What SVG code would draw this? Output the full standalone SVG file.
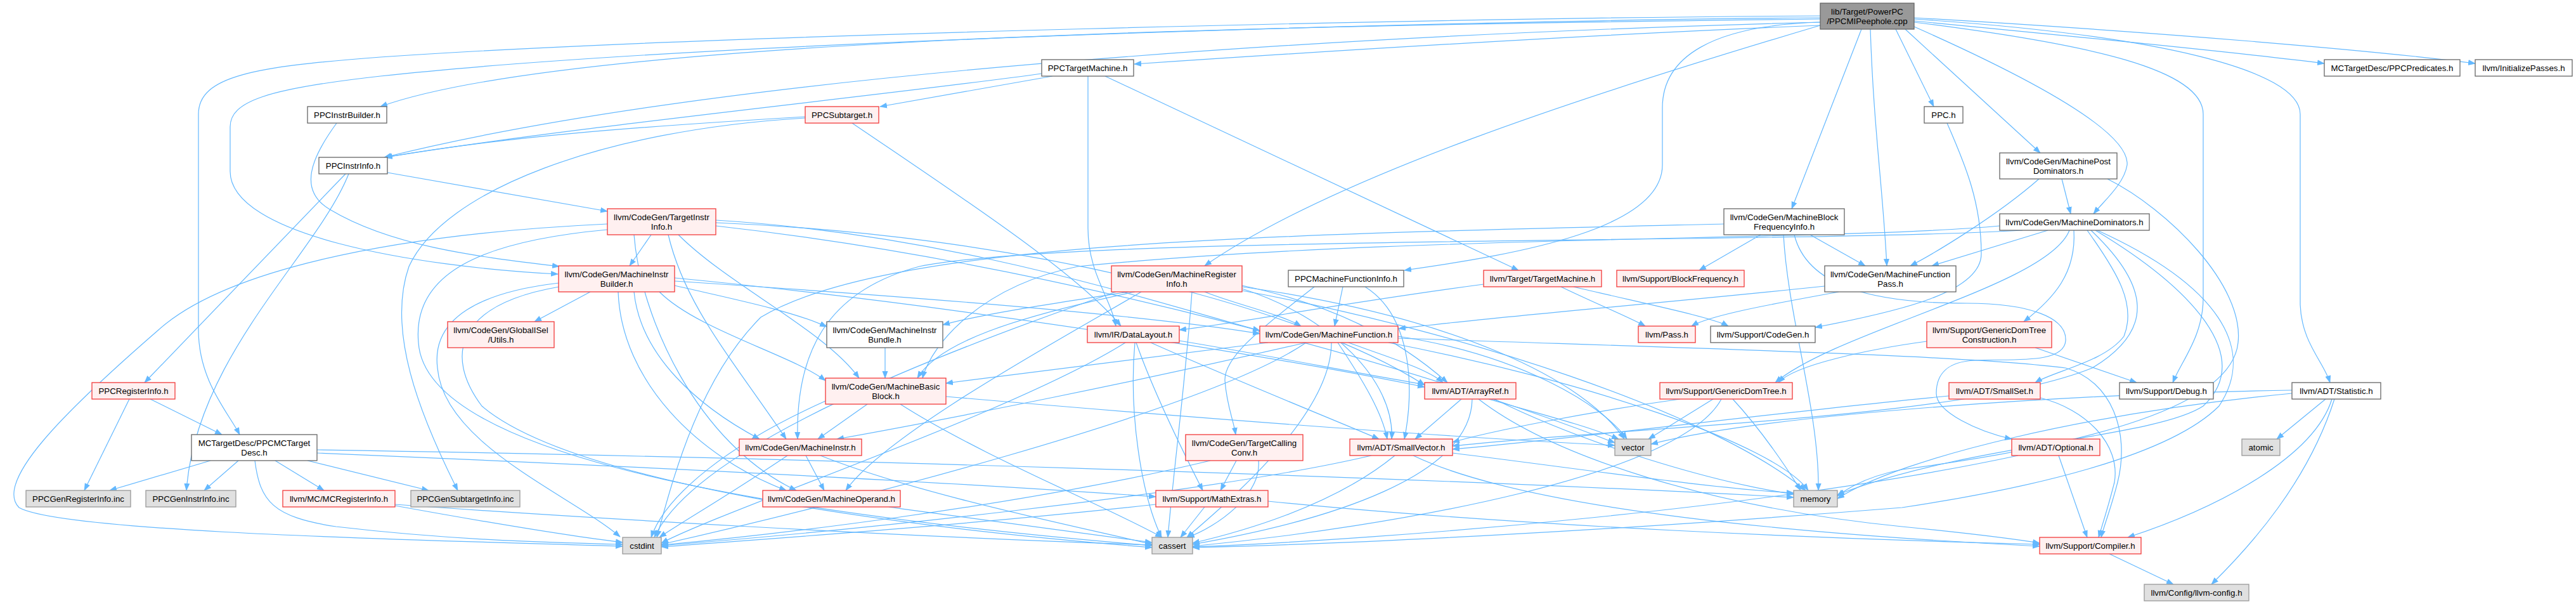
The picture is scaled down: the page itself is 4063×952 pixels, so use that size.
<svg xmlns="http://www.w3.org/2000/svg" width="4063" height="952" viewBox="0 0 4063 952">
<defs>
<marker id="arr" markerWidth="12" markerHeight="10" refX="11" refY="4.5" orient="auto" markerUnits="userSpaceOnUse"><path d="M0,0 L12,4.5 L0,9 z" fill="#63b8ff"/></marker>
<style>
.e path{fill:none;stroke:#63b8ff;stroke-width:1.2;marker-end:url(#arr)}
rect{stroke-width:1.3}
.w rect{fill:#ffffff;stroke:#666666}
.r rect{fill:#fff0f0;stroke:#f23a3a}
.g rect{fill:#e0e0e0;stroke:#999999}
.t rect{fill:#999999;stroke:#666666}
text{font-family:"Liberation Sans",Arial,Helvetica,sans-serif;font-size:13.3px;text-anchor:middle;fill:#000000}
</style>
</defs>
<rect x="0" y="0" width="4063" height="952" fill="#ffffff"/>
<g id="connectors" class="e">
<path d="M2871,30 C2000,40 900,60 600,168"/>
<path d="M2871,35 C2300,50 1200,100 606,248"/>
<path d="M2871,28 C2300,32 1100,65 600,120 C420,140 363,160 363,200 L363,270 C363,370 650,420 880,432"/>
<path d="M2871,25 C2300,28 1100,55 600,90 C400,105 313,120 313,180 L313,520 C313,600 360,650 378,685"/>
<path d="M2871,40 C2500,55 2100,80 1789,101"/>
<path d="M2871,40 C2500,150 2100,280 1900,419"/>
<path d="M2871,35 C2700,40 2622,90 2622,170 L2622,260 C2622,360 2400,400 2215,426"/>
<path d="M2936,46 L2826,329"/>
<path d="M2950,46 C2955,200 2970,300 2976,419"/>
<path d="M2990,46 L3050,168"/>
<path d="M3005,46 L3218,241"/>
<path d="M3019,42 C3150,100 3360,200 3355,260 C3350,290 3320,315 3302,337"/>
<path d="M3019,35 C3300,70 3475,110 3475,180 L3475,470 C3475,530 3440,570 3427,603"/>
<path d="M3019,30 C3400,55 3628,110 3628,180 L3628,480 C3630,540 3665,570 3675,603"/>
<path d="M3019,33 C3300,60 3550,85 3666,100"/>
<path d="M3019,28 C3400,50 3750,80 3904,100"/>
<path d="M1643,116 C1400,150 900,200 607,248"/>
<path d="M1660,120 L1388,168"/>
<path d="M1716,120 L1716,360 C1716,430 1752,470 1760,514"/>
<path d="M1743,120 L2395,426"/>
<path d="M1270,184 C1000,200 800,215 608,248"/>
<path d="M1270,186 C950,205 700,300 645,420 C610,520 660,650 722,773"/>
<path d="M1344,194 C1500,300 1700,430 1768,514"/>
<path d="M531,194 C490,250 470,300 520,330 C620,390 760,405 882,420"/>
<path d="M611,272 L958,333"/>
<path d="M545,274 L228,603"/>
<path d="M550,274 C500,400 310,560 294,773"/>
<path d="M204,629 L133,773"/>
<path d="M237,629 L350,685"/>
<path d="M332,726 L173,773"/>
<path d="M376,726 L322,773"/>
<path d="M434,726 L511,773"/>
<path d="M485,726 L676,773"/>
<path d="M402,726 C410,790 430,815 530,830 C700,850 850,855 982,858"/>
<path d="M500,709 C1200,720 2200,750 2829,784"/>
<path d="M500,714 C1000,735 1500,760 1823,783"/>
<path d="M623,797 C750,820 900,845 982,855"/>
<path d="M623,795 C900,815 1400,845 1817,859"/>
<path d="M1027,370 L993,419"/>
<path d="M958,353 C600,370 350,430 250,520 C100,650 -10,760 30,800 C100,840 700,852 982,861"/>
<path d="M1054,370 C1080,480 1150,560 1240,692"/>
<path d="M1070,370 C1150,450 1300,520 1355,596"/>
<path d="M1000,370 C1010,500 1100,700 1256,773"/>
<path d="M958,362 C760,380 650,430 660,540 C670,700 1100,800 1817,860"/>
<path d="M1129,351 C1600,370 2050,480 2247,607"/>
<path d="M1129,347 C1500,370 1800,470 1987,521"/>
<path d="M1129,356 C1700,420 2300,600 2547,698"/>
<path d="M931,460 L843,507"/>
<path d="M1064,450 C1150,470 1250,490 1304,515"/>
<path d="M1040,460 C1100,520 1250,560 1302,600"/>
<path d="M1000,460 C1010,560 1100,640 1198,692"/>
<path d="M975,460 C980,600 1100,720 1240,773"/>
<path d="M882,452 C720,480 700,560 760,640 C900,760 1400,830 1817,863"/>
<path d="M882,446 C760,460 680,500 690,580 C700,700 900,780 978,846"/>
<path d="M1064,438 C1500,480 2000,560 2247,610"/>
<path d="M1064,443 C1400,465 1800,495 1987,526"/>
<path d="M1780,460 C1650,480 1550,495 1487,512"/>
<path d="M1790,460 C1600,500 1480,540 1447,596"/>
<path d="M1800,460 C1700,520 1400,680 1334,773"/>
<path d="M1880,460 C1870,600 1850,750 1842,847"/>
<path d="M1760,460 C1500,550 1100,700 1032,847"/>
<path d="M1959,450 C2100,480 2200,530 2283,603"/>
<path d="M1900,460 C1950,480 2020,495 2052,514"/>
<path d="M1959,455 C2100,500 2200,600 2195,692"/>
<path d="M1959,458 C2300,520 2700,650 2848,773"/>
<path d="M1959,452 C2300,500 2500,600 2562,692"/>
<path d="M1368,637 L1290,692"/>
<path d="M1302,632 C1150,700 1050,780 1027,847"/>
<path d="M1420,637 C1550,720 1750,800 1833,847"/>
<path d="M1492,625 C1900,660 2300,690 2547,702"/>
<path d="M1396,548 L1396,596"/>
<path d="M1271,718 L1300,773"/>
<path d="M1242,718 C1150,780 1080,820 1040,847"/>
<path d="M1294,718 C1450,780 1700,830 1817,858"/>
<path d="M1402,799 C1550,820 1700,840 1817,855"/>
<path d="M1860,537 C2000,560 2150,590 2247,606"/>
<path d="M1815,540 C1950,600 2100,660 2175,692"/>
<path d="M1792,540 C1820,620 1870,720 1897,773"/>
<path d="M1790,540 C1780,650 1800,780 1832,847"/>
<path d="M1775,540 C1600,650 1150,800 1043,856"/>
<path d="M2000,540 C1800,565 1600,590 1492,604"/>
<path d="M2060,540 C1800,600 1500,660 1320,692"/>
<path d="M2127,540 C2180,560 2250,580 2276,603"/>
<path d="M2110,540 C2150,600 2180,650 2188,692"/>
<path d="M2100,540 C2100,650 1950,780 1872,847"/>
<path d="M2060,540 C1900,650 1300,800 1043,858"/>
<path d="M2190,540 C2500,600 2800,700 2852,773"/>
<path d="M2205,530 C2400,560 2530,640 2566,692"/>
<path d="M2205,533 C2700,550 3100,560 3258,580 C3330,600 3360,680 3340,760 C3330,800 3318,830 3314,847"/>
<path d="M2073,452 C2000,510 1930,560 1932,600 C1935,640 1945,660 1949,685"/>
<path d="M2118,452 L2105,514"/>
<path d="M2153,452 C2230,500 2230,620 2215,692"/>
<path d="M2340,448 C2100,480 1950,510 1860,520"/>
<path d="M2462,452 C2520,480 2570,500 2595,514"/>
<path d="M2482,452 C2600,480 2700,500 2726,514"/>
<path d="M2777,370 L2680,426"/>
<path d="M2855,370 L2942,419"/>
<path d="M2719,353 C2000,370 1400,380 1200,500 C1100,600 1060,760 1036,847"/>
<path d="M2813,370 C2820,500 2870,650 2868,773"/>
<path d="M2830,370 C2850,450 2950,478 3102,478 C3200,478 3260,500 3258,537 C3255,575 3170,565 3115,568 C3070,570 3054,590 3054,620 C3054,650 3120,680 3173,692"/>
<path d="M2878,451 C2600,480 2350,500 2206,518"/>
<path d="M2900,460 C2820,475 2700,495 2668,514"/>
<path d="M2305,629 L2232,692"/>
<path d="M2322,629 C2320,750 2100,820 1881,858"/>
<path d="M2332,629 C2450,720 2700,800 3000,830 C3100,840 3180,850 3217,856"/>
<path d="M2348,629 C2420,650 2500,670 2553,692"/>
<path d="M2357,629 C2500,700 2700,760 2829,779"/>
<path d="M2650,629 C2500,650 2350,680 2291,697"/>
<path d="M2702,629 L2600,692"/>
<path d="M2715,629 C2650,750 2200,830 1881,861"/>
<path d="M2733,629 C2780,680 2820,740 2840,773"/>
<path d="M2163,718 C1900,780 1300,840 1043,860"/>
<path d="M2200,718 C2100,800 1950,840 1881,856"/>
<path d="M2229,718 C2400,800 2800,840 3217,861"/>
<path d="M2291,714 C2500,740 2700,770 2829,777"/>
<path d="M1823,795 C1500,830 1200,850 1043,862"/>
<path d="M1900,799 L1862,847"/>
<path d="M2000,790 C2400,830 2900,850 3217,858"/>
<path d="M1909,726 C1600,800 1200,845 1043,859"/>
<path d="M1950,726 L1925,773"/>
<path d="M1985,726 C1990,780 1920,830 1873,847"/>
<path d="M3230,363 L3047,419"/>
<path d="M3154,356 C2900,380 2200,370 1700,420 C1550,450 1470,540 1455,596"/>
<path d="M3190,363 C2800,385 1700,370 1450,420 C1300,460 1255,560 1258,692"/>
<path d="M3264,363 C3230,450 2900,520 2800,603"/>
<path d="M3271,363 C3275,430 3240,470 3192,507"/>
<path d="M3292,363 C3340,430 3370,480 3350,530 C3320,570 3240,585 3210,603"/>
<path d="M3298,363 C3390,450 3400,520 3300,580 C3100,660 2600,670 2291,703"/>
<path d="M3305,363 C3450,450 3560,560 3475,640 C3400,690 3100,700 2898,780"/>
<path d="M3308,363 C3500,450 3560,550 3500,640 C3420,720 3200,770 3000,800 C2500,840 2100,858 1881,863"/>
<path d="M3216,282 C3150,340 3050,400 3013,419"/>
<path d="M3252,282 L3266,337"/>
<path d="M3324,282 C3420,330 3540,450 3530,540 C3520,640 3300,700 3000,740 C2950,750 2920,765 2898,782"/>
<path d="M3210,548 L3370,603"/>
<path d="M3039,538 C2950,550 2830,575 2805,603"/>
<path d="M3074,624 C2800,650 2500,690 2291,708"/>
<path d="M3218,627 C3290,645 3345,700 3335,760 C3325,800 3315,830 3310,847"/>
<path d="M3247,718 L3292,847"/>
<path d="M3183,718 C2800,800 2200,850 1881,862"/>
<path d="M3668,629 L3591,692"/>
<path d="M3678,629 C3650,720 3500,800 3356,847"/>
<path d="M3682,629 C3640,760 3550,860 3488,921"/>
<path d="M3615,620 C3300,650 3000,720 2898,786"/>
<path d="M3615,615 C3300,620 2800,650 2604,700"/>
<path d="M3327,873 L3428,921"/>
<path d="M3071,194 C3100,260 3125,320 3125,400 C3125,460 3000,490 2863,516"/>
</g>
<g id="n_top" class="t"><rect x="2871" y="5" width="148" height="41"/><text x="2945" y="22.5">lib/Target/PowerPC</text><text x="2945" y="37.5">/PPCMIPeephole.cpp</text></g>
<g id="n_PPCInstrBuilder" class="w"><rect x="485" y="168" width="125" height="26"/><text x="547.5" y="186">PPCInstrBuilder.h</text></g>
<g id="n_PPCInstrInfo" class="w"><rect x="503" y="248" width="108" height="26"/><text x="557" y="266">PPCInstrInfo.h</text></g>
<g id="n_TargetInstrInfo" class="r"><rect x="958" y="329" width="171" height="41"/><text x="1043.5" y="346.5">llvm/CodeGen/TargetInstr</text><text x="1043.5" y="361.5">Info.h</text></g>
<g id="n_MachineInstrBuilder" class="r"><rect x="881" y="419" width="183" height="41"/><text x="972.5" y="436.5">llvm/CodeGen/MachineInstr</text><text x="972.5" y="451.5">Builder.h</text></g>
<g id="n_Utils" class="r"><rect x="706" y="507" width="168" height="41"/><text x="790" y="524.5">llvm/CodeGen/GlobalISel</text><text x="790" y="539.5">/Utils.h</text></g>
<g id="n_PPCRegisterInfo" class="r"><rect x="145" y="603" width="131" height="26"/><text x="210.5" y="621">PPCRegisterInfo.h</text></g>
<g id="n_PPCMCTargetDesc" class="w"><rect x="302" y="685" width="198" height="41"/><text x="401" y="702.5">MCTargetDesc/PPCMCTarget</text><text x="401" y="717.5">Desc.h</text></g>
<g id="n_PPCGenRegisterInfo" class="g"><rect x="41" y="773" width="165" height="26"/><text x="123.5" y="791">PPCGenRegisterInfo.inc</text></g>
<g id="n_PPCGenInstrInfo" class="g"><rect x="230" y="773" width="142" height="26"/><text x="301" y="791">PPCGenInstrInfo.inc</text></g>
<g id="n_MCRegisterInfo" class="r"><rect x="446" y="773" width="177" height="26"/><text x="534.5" y="791">llvm/MC/MCRegisterInfo.h</text></g>
<g id="n_PPCGenSubtargetInfo" class="g"><rect x="648" y="773" width="172" height="26"/><text x="734" y="791">PPCGenSubtargetInfo.inc</text></g>
<g id="n_cstdint" class="g"><rect x="982" y="847" width="61" height="26"/><text x="1012.5" y="865">cstdint</text></g>
<g id="n_PPCTargetMachine" class="w"><rect x="1643" y="94" width="145" height="26"/><text x="1715.5" y="112">PPCTargetMachine.h</text></g>
<g id="n_PPCSubtarget" class="r"><rect x="1270" y="168" width="116" height="26"/><text x="1328" y="186">PPCSubtarget.h</text></g>
<g id="n_MachineRegisterInfo" class="r"><rect x="1753" y="419" width="206" height="41"/><text x="1856" y="436.5">llvm/CodeGen/MachineRegister</text><text x="1856" y="451.5">Info.h</text></g>
<g id="n_MachineInstrBundle" class="w"><rect x="1304" y="507" width="183" height="41"/><text x="1395.5" y="524.5">llvm/CodeGen/MachineInstr</text><text x="1395.5" y="539.5">Bundle.h</text></g>
<g id="n_DataLayout" class="r"><rect x="1715" y="514" width="145" height="26"/><text x="1787.5" y="532">llvm/IR/DataLayout.h</text></g>
<g id="n_MachineFunction" class="r"><rect x="1987" y="514" width="218" height="26"/><text x="2096" y="532">llvm/CodeGen/MachineFunction.h</text></g>
<g id="n_MachineBasicBlock" class="r"><rect x="1302" y="596" width="190" height="41"/><text x="1397" y="613.5">llvm/CodeGen/MachineBasic</text><text x="1397" y="628.5">Block.h</text></g>
<g id="n_MachineInstr" class="r"><rect x="1166" y="692" width="193" height="26"/><text x="1262.5" y="710">llvm/CodeGen/MachineInstr.h</text></g>
<g id="n_MachineOperand" class="r"><rect x="1203" y="773" width="217" height="26"/><text x="1311.5" y="791">llvm/CodeGen/MachineOperand.h</text></g>
<g id="n_TargetCallingConv" class="r"><rect x="1870" y="685" width="185" height="41"/><text x="1962.5" y="702.5">llvm/CodeGen/TargetCalling</text><text x="1962.5" y="717.5">Conv.h</text></g>
<g id="n_MathExtras" class="r"><rect x="1823" y="773" width="177" height="26"/><text x="1911.5" y="791">llvm/Support/MathExtras.h</text></g>
<g id="n_cassert" class="g"><rect x="1817" y="847" width="64" height="26"/><text x="1849" y="865">cassert</text></g>
<g id="n_MachineBlockFrequencyInfo" class="w"><rect x="2719" y="329" width="190" height="41"/><text x="2814" y="346.5">llvm/CodeGen/MachineBlock</text><text x="2814" y="361.5">FrequencyInfo.h</text></g>
<g id="n_PPCMachineFunctionInfo" class="w"><rect x="2032" y="426" width="182" height="26"/><text x="2123" y="444">PPCMachineFunctionInfo.h</text></g>
<g id="n_TargetMachine" class="r"><rect x="2340" y="426" width="186" height="26"/><text x="2433" y="444">llvm/Target/TargetMachine.h</text></g>
<g id="n_BlockFrequency" class="r"><rect x="2550" y="426" width="201" height="26"/><text x="2650.5" y="444">llvm/Support/BlockFrequency.h</text></g>
<g id="n_MachineFunctionPass" class="w"><rect x="2878" y="419" width="207" height="41"/><text x="2981.5" y="436.5">llvm/CodeGen/MachineFunction</text><text x="2981.5" y="451.5">Pass.h</text></g>
<g id="n_Pass" class="r"><rect x="2584" y="514" width="90" height="26"/><text x="2629" y="532">llvm/Pass.h</text></g>
<g id="n_CodeGen" class="w"><rect x="2698" y="514" width="165" height="26"/><text x="2780.5" y="532">llvm/Support/CodeGen.h</text></g>
<g id="n_ArrayRef" class="r"><rect x="2247" y="603" width="144" height="26"/><text x="2319" y="621">llvm/ADT/ArrayRef.h</text></g>
<g id="n_GenericDomTree" class="r"><rect x="2618" y="603" width="209" height="26"/><text x="2722.5" y="621">llvm/Support/GenericDomTree.h</text></g>
<g id="n_SmallVector" class="r"><rect x="2129" y="692" width="162" height="26"/><text x="2210" y="710">llvm/ADT/SmallVector.h</text></g>
<g id="n_vector" class="g"><rect x="2547" y="692" width="57" height="26"/><text x="2575.5" y="710">vector</text></g>
<g id="n_memory" class="g"><rect x="2829" y="773" width="69" height="26"/><text x="2863.5" y="791">memory</text></g>
<g id="n_PPC" class="w"><rect x="3035" y="168" width="61" height="26"/><text x="3065.5" y="186">PPC.h</text></g>
<g id="n_MachinePostDominators" class="w"><rect x="3154" y="241" width="185" height="41"/><text x="3246.5" y="258.5">llvm/CodeGen/MachinePost</text><text x="3246.5" y="273.5">Dominators.h</text></g>
<g id="n_MachineDominators" class="w"><rect x="3154" y="337" width="236" height="26"/><text x="3272" y="355">llvm/CodeGen/MachineDominators.h</text></g>
<g id="n_PPCPredicates" class="w"><rect x="3666" y="94" width="214" height="26"/><text x="3773" y="112">MCTargetDesc/PPCPredicates.h</text></g>
<g id="n_InitializePasses" class="w"><rect x="3904" y="94" width="153" height="26"/><text x="3980.5" y="112">llvm/InitializePasses.h</text></g>
<g id="n_GenericDomTreeConstruction" class="r"><rect x="3039" y="507" width="197" height="41"/><text x="3137.5" y="524.5">llvm/Support/GenericDomTree</text><text x="3137.5" y="539.5">Construction.h</text></g>
<g id="n_SmallSet" class="r"><rect x="3074" y="603" width="144" height="26"/><text x="3146" y="621">llvm/ADT/SmallSet.h</text></g>
<g id="n_Debug" class="w"><rect x="3343" y="603" width="148" height="26"/><text x="3417" y="621">llvm/Support/Debug.h</text></g>
<g id="n_Statistic" class="w"><rect x="3615" y="603" width="140" height="26"/><text x="3685" y="621">llvm/ADT/Statistic.h</text></g>
<g id="n_Optional" class="r"><rect x="3173" y="692" width="139" height="26"/><text x="3242.5" y="710">llvm/ADT/Optional.h</text></g>
<g id="n_atomic" class="g"><rect x="3536" y="692" width="60" height="26"/><text x="3566" y="710">atomic</text></g>
<g id="n_Compiler" class="r"><rect x="3217" y="847" width="160" height="26"/><text x="3297" y="865">llvm/Support/Compiler.h</text></g>
<g id="n_llvm_config" class="g"><rect x="3382" y="921" width="165" height="26"/><text x="3464.5" y="939">llvm/Config/llvm-config.h</text></g>
</svg>
